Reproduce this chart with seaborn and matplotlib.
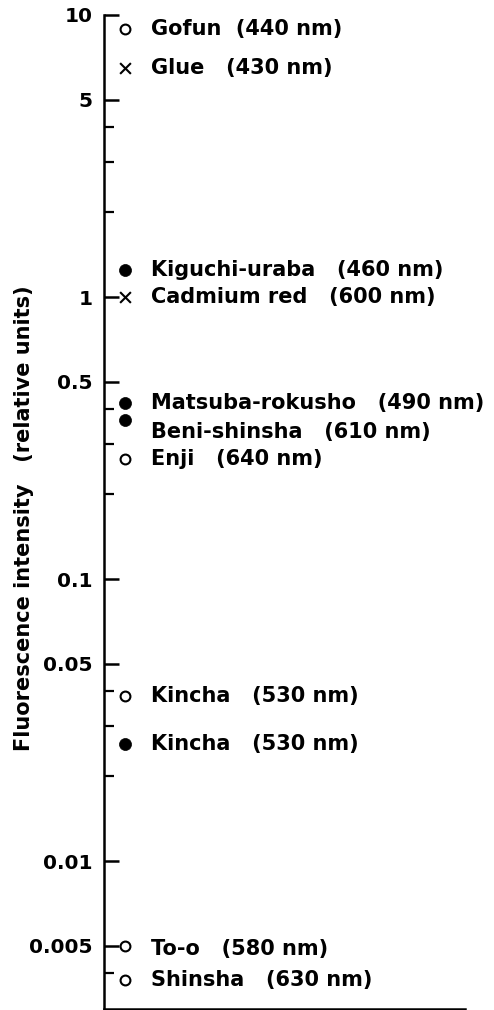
import matplotlib
matplotlib.use("Agg")
import matplotlib.pyplot as plt
import seaborn as sns
import pandas as pd

# Valores
pigmentos = ["Gofun", "Glue", "Kiguchi-uraba", "Cadmium red", "Matsuba-rokusho",
             "Beni-shinsha", "Enji", "Kincha", "Kincha", "To-o", "Shinsha"]
comprimento_onda = [440, 430, 460, 600, 490, 610, 640, 530, 530, 580, 630]
intensidade = [8.9, 6.5, 1.25, 1.0, 0.42, 0.365, 0.267, 0.0385, 0.026, 0.005, 0.0038]
tipo = ["open", "cross", "filled", "cross", "filled", "filled", "open",
        "open", "filled", "open", "open"]

ticks_maiores = [10, 5, 1, 0.5, 0.1, 0.05, 0.01, 0.005]
ticks_rotulos = ["10", "5", "1", "0.5", "0.1", "0.05", "0.01", "0.005"]
ticks_menores = [4, 3, 2, 0.4, 0.3, 0.2, 0.04, 0.03, 0.02, 0.004]

df = pd.DataFrame({"pigmento": pigmentos, "nm": comprimento_onda,
                   "intensidade": intensidade, "tipo": tipo})
df["x"] = 0

sns.set_style("ticks")
plt.rcParams["font.family"] = ["DejaVu Sans"]
plt.rcParams["font.weight"] = "bold"
for k in ["text.color", "axes.labelcolor", "xtick.color", "ytick.color", "axes.edgecolor"]:
    plt.rcParams[k] = "black"

fig = plt.figure(figsize=(4.94, 10.10), dpi=100)
ax = fig.add_axes([104 / 494, 1 - 1008.5 / 1010, 361 / 494, 993.5 / 1010])

estilos = {
    "open": dict(marker="o", s=50, facecolor="white", edgecolor="black", linewidth=1.5),
    "filled": dict(marker="o", s=75, color="black", edgecolor="black", linewidth=0.5),
    "cross": dict(marker="x", s=60, color="black", linewidth=1.5),
}
for t, kw in estilos.items():
    sub = df[df["tipo"] == t]
    sns.scatterplot(data=sub, x="x", y="intensidade", ax=ax, legend=False, zorder=3, **kw)

# pequenos ajustes verticais dos rótulos (pontos)
ajuste = {"Beni-shinsha": -8, "To-o": -2}
for _, r in df.iterrows():
    esp = "  " if r["pigmento"] == "Gofun" else "   "
    ax.annotate(f"{r['pigmento']}{esp}({r['nm']} nm)", (r["x"], r["intensidade"]),
                xytext=(18.5, ajuste.get(r["pigmento"], 0)), textcoords="offset points",
                ha="left", va="center", fontsize=15, fontweight="bold")

ax.set_yscale("log")
ax.set_ylim(0.003, 10)
ax.set_xlim(-1, 16.2)
ax.set_yticks(ticks_maiores)
ax.set_yticklabels(ticks_rotulos)
ax.set_yticks(ticks_menores, minor=True)
ax.yaxis.set_minor_formatter(matplotlib.ticker.NullFormatter())
ax.tick_params(axis="y", which="major", direction="in", length=11, width=1.8,
               pad=8.5, labelsize=14.5)
ax.tick_params(axis="y", which="minor", direction="in", length=7, width=1.6)
ax.set_xticks([])
ax.set_xlabel("")
ax.set_ylabel("Fluorescence intensity   (relative units)", fontsize=15,
              fontweight="bold")
ax.yaxis.set_label_coords(-0.195, 0.494)
for s in ["top", "right"]:
    ax.spines[s].set_visible(False)
for s in ["left", "bottom"]:
    ax.spines[s].set_linewidth(1.8)

fig.savefig("out.png", dpi=100)
